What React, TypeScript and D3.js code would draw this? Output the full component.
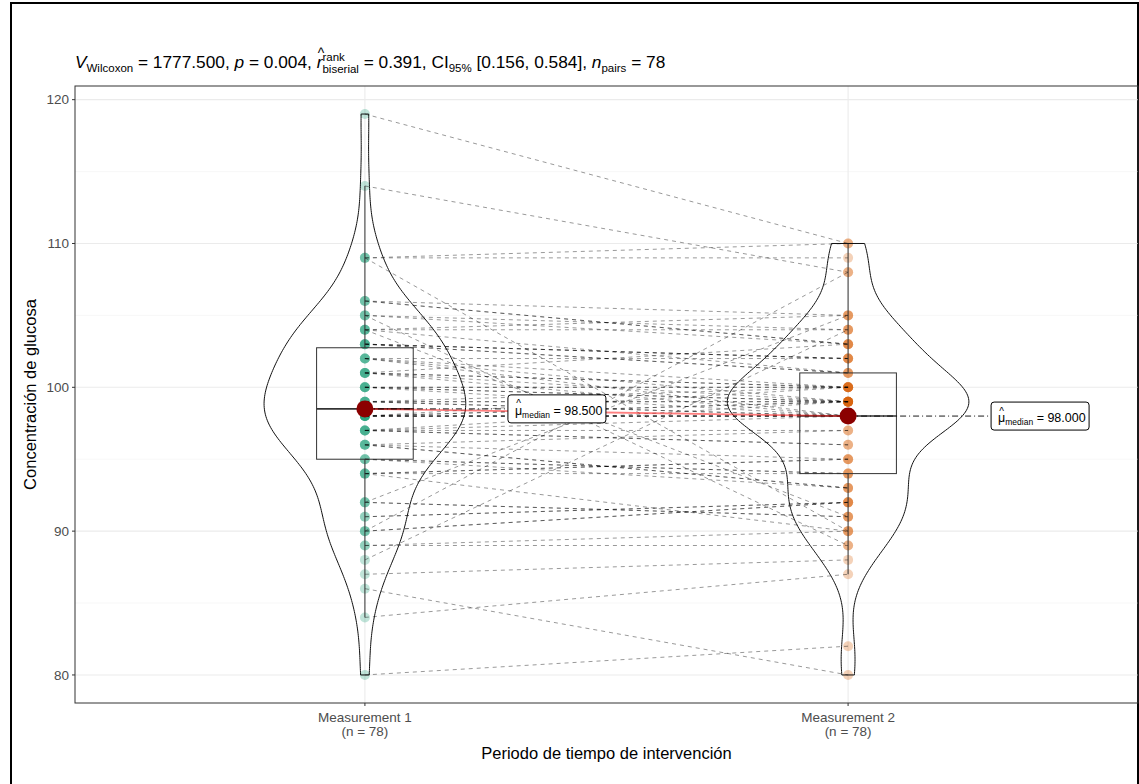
import React from "react";
import * as d3 from "d3";

// paired glucose readings, one entry per subject (n = 78)
const categories = ["Measurement 1", "Measurement 2"];
const measurement1 = [
  80, 84, 86, 87, 88, 89, 89, 90, 90, 90,
  91, 91, 92, 92, 92, 94, 94, 94, 94, 95,
  95, 95, 96, 96, 96, 96, 97, 97, 97, 97,
  97, 98, 98, 98, 98, 98, 98, 98, 98, 99,
  99, 99, 99, 99, 100, 100, 100, 100, 100, 101,
  101, 101, 101, 101, 102, 102, 102, 102, 103, 103,
  103, 103, 103, 104, 104, 104, 104, 105, 105, 105,
  106, 106, 106, 109, 109, 109, 114, 119,
];
const measurement2 = [
  82, 87, 80, 88, 104, 89, 90, 108, 92, 92,
  92, 92, 105, 91, 91, 90, 95, 95, 94, 93,
  94, 94, 93, 93, 95, 97, 96, 96, 98, 97,
  99, 98, 99, 98, 100, 98, 99, 98, 98, 98,
  100, 99, 98, 99, 99, 98, 100, 100, 99, 100,
  99, 103, 100, 98, 102, 100, 99, 98, 102, 102,
  102, 101, 101, 101, 105, 91, 104, 104, 89, 103,
  103, 103, 105, 110, 90, 109, 108, 110,
];
const groupColors = ["#1B9E77", "#D95F02"];
const yTicks = [80, 90, 100, 110, 120];
const yMinorTicks = [85, 95, 105, 115];
const nLabels = ["(n = 78)", "(n = 78)"];
const medianLabels = ["98.500", "98.000"];

const W = 1139;
const H = 784;
const panel = { left: 75, top: 86, right: 1138, bottom: 703 };
const FONT = '"Liberation Sans", Arial, Helvetica, sans-serif';

const ctx = typeof document !== "undefined" ? document.createElement("canvas").getContext("2d") : null;
function textWidth(s: string, size: number, italic = false) {
  if (!ctx) return s.length * size * 0.55;
  ctx.font = `${italic ? "italic " : ""}${size}px ${FONT}`;
  return ctx.measureText(s).width;
}

// gaussian kde with R's bw.nrd0
function kde(values: number[]) {
  const sorted = values.slice().sort(d3.ascending);
  const sd = d3.deviation(sorted) as number;
  const iqr = (d3.quantileSorted(sorted, 0.75) as number) - (d3.quantileSorted(sorted, 0.25) as number);
  const bw = 0.9 * Math.min(sd, iqr / 1.34) * Math.pow(sorted.length, -0.2);
  const lo = sorted[0];
  const hi = sorted[sorted.length - 1];
  const pts: [number, number][] = [];
  const steps = 256;
  for (let i = 0; i <= steps; i++) {
    const v = lo + ((hi - lo) * i) / steps;
    let s = 0;
    for (const x of sorted) {
      const z = (v - x) / bw;
      s += Math.exp(-0.5 * z * z);
    }
    pts.push([v, s / (sorted.length * bw * Math.sqrt(2 * Math.PI))]);
  }
  return pts;
}

function boxStats(values: number[]) {
  const s = values.slice().sort(d3.ascending);
  const q1 = d3.quantileSorted(s, 0.25) as number;
  const med = d3.quantileSorted(s, 0.5) as number;
  const q3 = d3.quantileSorted(s, 0.75) as number;
  const iqr = q3 - q1;
  const lo = d3.min(s.filter((v) => v >= q1 - 1.5 * iqr)) as number;
  const hi = d3.max(s.filter((v) => v <= q3 + 1.5 * iqr)) as number;
  return { q1, med, q3, lo, hi };
}

type Piece = { t: string; s: number; dy?: number; it?: boolean; hat?: boolean; stackWith?: Piece };

function MathText({ x, y, pieces, fill = "#000" }: { x: number; y: number; pieces: Piece[]; fill?: string }) {
  let cx = x;
  const out: React.ReactNode[] = [];
  pieces.forEach((p, i) => {
    const w = textWidth(p.t, p.s, p.it);
    out.push(
      <text key={"t" + i} x={cx} y={y + (p.dy || 0)} fontSize={p.s} fontStyle={p.it ? "italic" : "normal"} fill={fill} style={{ whiteSpace: "pre" }}>
        {p.t}
      </text>
    );
    if (p.hat) {
      out.push(
        <text key={"h" + i} x={cx + w / 2 + (p.it ? 1.5 : 0)} y={y - p.s * 0.6} fontSize={p.s * 0.8} textAnchor="middle" fill={fill}>
          ^
        </text>
      );
    }
    let adv = w;
    if (p.stackWith) {
      const q = p.stackWith;
      out.push(
        <text key={"s" + i} x={cx} y={y + (q.dy || 0)} fontSize={q.s} fill={fill}>
          {q.t}
        </text>
      );
      adv = Math.max(w, textWidth(q.t, q.s));
    }
    cx += adv;
  });
  return <g fontFamily={FONT}>{out}</g>;
}

export default function App() {
  const groups = [measurement1, measurement2];
  const x = d3.scalePoint<string>().domain(categories).range([panel.left, panel.right]).padding(0.6);
  const lo = d3.min(groups.flat()) as number;
  const hi = d3.max(groups.flat()) as number;
  const pad = (hi - lo) * 0.05;
  const y = d3.scaleLinear().domain([lo - pad, hi + pad]).range([panel.bottom, panel.top]);
  const step = x.step();

  const dens = groups.map(kde);
  const maxD = d3.max(dens.flat(), (d) => d[1]) as number;
  const halfMax = step * 0.25;
  const violinPath = (pts: [number, number][], cx: number) => {
    const left = pts.map(([v, d]) => [cx - (d / maxD) * halfMax, y(v)] as [number, number]);
    const right = pts.map(([v, d]) => [cx + (d / maxD) * halfMax, y(v)] as [number, number]).reverse();
    return d3.line()([...left, ...right]) + "Z";
  };

  const stats = groups.map(boxStats);
  const medians = groups.map((g) => d3.median(g) as number);
  const boxW = step * 0.2;

  return (
    <svg width={W} height={H} style={{ position: "absolute", left: 0, top: 0, background: "#fff" }} fontFamily={FONT}>
      <rect x={11} y={3} width={W - 12} height={H + 10} fill="#fff" stroke="#000" strokeWidth={2} />

      {/* grid */}
      {yMinorTicks.map((t) => (
        <line key={"mi" + t} x1={panel.left} x2={panel.right} y1={y(t)} y2={y(t)} stroke="#f2f2f2" strokeWidth={0.6} />
      ))}
      {yTicks.map((t) => (
        <line key={"ma" + t} x1={panel.left} x2={panel.right} y1={y(t)} y2={y(t)} stroke="#ebebeb" strokeWidth={1.1} />
      ))}
      {categories.map((c) => (
        <line key={"vg" + c} x1={x(c)} x2={x(c)} y1={panel.top} y2={panel.bottom} stroke="#ebebeb" strokeWidth={1.1} />
      ))}

      {/* points */}
      {groups.map((g, gi) =>
        g.map((v, i) => (
          <circle key={`p${gi}-${i}`} cx={x(categories[gi])} cy={y(v)} r={5} fill={groupColors[gi]} fillOpacity={0.28} />
        ))
      )}

      {/* paired paths */}
      {measurement1.map((v, i) => (
        <line
          key={"l" + i}
          x1={x(categories[0])}
          y1={y(v)}
          x2={x(categories[1])}
          y2={y(measurement2[i])}
          stroke="#000"
          strokeOpacity={0.5}
          strokeWidth={0.8}
          strokeDasharray="4 4"
        />
      ))}

      {/* boxplots */}
      {stats.map((s, gi) => {
        const cx = x(categories[gi]) as number;
        return (
          <g key={"b" + gi} stroke="#333" strokeWidth={1} fill="none">
            <line x1={cx} x2={cx} y1={y(s.q3)} y2={y(s.hi)} />
            <line x1={cx} x2={cx} y1={y(s.q1)} y2={y(s.lo)} />
            <rect x={cx - boxW / 2} y={y(s.q3)} width={boxW} height={y(s.q1) - y(s.q3)} />
            <line x1={cx - boxW / 2} x2={cx + boxW / 2} y1={y(s.med)} y2={y(s.med)} strokeWidth={1.6} />
          </g>
        );
      })}

      {/* violins */}
      {dens.map((d, gi) => (
        <path key={"v" + gi} d={violinPath(d, x(categories[gi]) as number)} fill="none" stroke="#111" strokeWidth={1} />
      ))}

      {/* centrality */}
      <line
        x1={x(categories[0])}
        y1={y(medians[0])}
        x2={x(categories[1])}
        y2={y(medians[1])}
        stroke="red"
        strokeOpacity={0.5}
        strokeWidth={1.8}
      />
      {medians.map((m, gi) => {
        const cx = x(categories[gi]) as number;
        const bx = cx + 143;
        const by = y(m);
        return (
          <g key={"m" + gi}>
            <line x1={cx} x2={bx} y1={by} y2={by} stroke="#000" strokeWidth={0.9} strokeDasharray="6 3 1 3" />
            <circle cx={cx} cy={by} r={8.5} fill="#8B0000" />
            <rect x={bx} y={by - 14} width={98} height={28} rx={3} fill="#fff" stroke="#000" strokeWidth={1} />
            <MathText
              x={bx + 7}
              y={by + 6}
              pieces={[
                { t: "\u03bc", s: 12.5, hat: true },
                { t: "median", s: 8.5, dy: 3 },
                { t: " = " + medianLabels[gi], s: 12.5 },
              ]}
            />
          </g>
        );
      })}

      {/* panel border */}
      <rect
        x={panel.left}
        y={panel.top}
        width={panel.right - panel.left}
        height={panel.bottom - panel.top}
        fill="none"
        stroke="#333"
        strokeWidth={1}
      />

      {/* y axis */}
      {yTicks.map((t) => (
        <g key={"yt" + t}>
          <line x1={panel.left - 3} x2={panel.left} y1={y(t)} y2={y(t)} stroke="#333" />
          <text x={panel.left - 6} y={y(t)} dy="0.35em" textAnchor="end" fontSize={13.5} fill="#4d4d4d">
            {t}
          </text>
        </g>
      ))}
      <text transform={`translate(36,${(panel.top + panel.bottom) / 2}) rotate(-90)`} textAnchor="middle" fontSize={16.5} fill="#000">
        Concentración de glucosa
      </text>

      {/* x axis */}
      {categories.map((c, i) => (
        <g key={"xt" + c}>
          <line x1={x(c)} x2={x(c)} y1={panel.bottom} y2={panel.bottom + 3} stroke="#333" />
          <text x={x(c)} y={panel.bottom + 19} textAnchor="middle" fontSize={13.5} fill="#4d4d4d">
            {c}
          </text>
          <text x={x(c)} y={panel.bottom + 33} textAnchor="middle" fontSize={13.5} fill="#4d4d4d">
            {nLabels[i]}
          </text>
        </g>
      ))}
      <text x={(panel.left + panel.right) / 2} y={panel.bottom + 56} textAnchor="middle" fontSize={16.5} fill="#000">
        Periodo de tiempo de intervención
      </text>

      {/* subtitle */}
      <MathText
        x={panel.left}
        y={68}
        pieces={[
          { t: "V", s: 17.3, it: true },
          { t: "Wilcoxon", s: 11.5, dy: 4 },
          { t: " = 1777.500, ", s: 17.3 },
          { t: "p", s: 17.3, it: true },
          { t: " = 0.004, ", s: 17.3 },
          { t: "r", s: 17.3, it: true, hat: true },
          { t: "rank", s: 11.5, dy: -7, stackWith: { t: "biserial", s: 11.5, dy: 5 } },
          { t: " = 0.391, CI", s: 17.3 },
          { t: "95%", s: 11.5, dy: 4 },
          { t: " [0.156, 0.584], ", s: 17.3 },
          { t: "n", s: 17.3, it: true },
          { t: "pairs", s: 11.5, dy: 4 },
          { t: " = 78", s: 17.3 },
        ]}
      />
    </svg>
  );
}
